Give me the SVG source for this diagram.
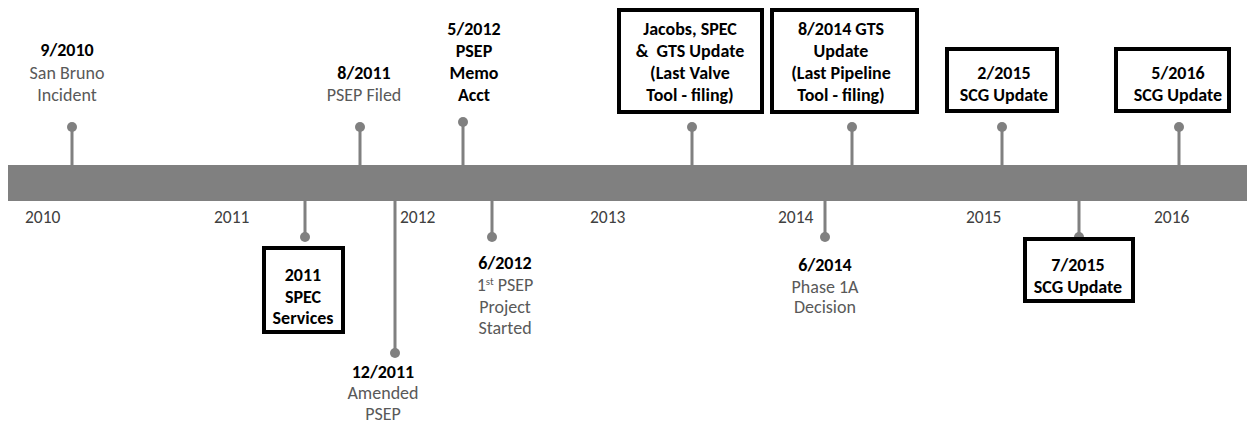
<svg xmlns="http://www.w3.org/2000/svg" width="1247" height="425" viewBox="0 0 1247 425">
<style>
text{font-family:Carlito,Lato,"Liberation Sans",sans-serif;font-size:18px;text-anchor:middle;fill:#595959;white-space:pre}
.b{font-weight:bold;fill:#000}
.yr{fill:#404040;text-anchor:start;font-size:17.5px}
.stem{stroke:#808080;stroke-width:3;fill:none}
.dot{fill:#808080}
.box{fill:#fff;stroke:#000;stroke-width:4}
</style>
<rect width="1247" height="425" fill="#fff"/>
<g id="timeline">
<rect x="8" y="165" width="1239" height="36" fill="#808080"/>
<text class="yr" x="25" y="223">2010</text>
<text class="yr" x="214" y="223">2011</text>
<text class="yr" x="400" y="223">2012</text>
<text class="yr" x="590" y="223">2013</text>
<text class="yr" x="778" y="223">2014</text>
<text class="yr" x="966" y="223">2015</text>
<text class="yr" x="1154" y="223">2016</text>
</g>
<g id="connectors">
<path class="stem" d="M72 127V165M360 127V165M463 122V165M692 127V165M852 127V165M1002 127V165M1179 127V165"/>
<path class="stem" d="M305 201V237M395 201V353M492 201V237M825 201V237M1079 201V237"/>
<g class="dot">
<circle cx="72" cy="127" r="5"/><circle cx="360" cy="127" r="5"/><circle cx="463" cy="122" r="5"/>
<circle cx="692" cy="127" r="5"/><circle cx="852" cy="127" r="5"/><circle cx="1002" cy="127" r="5"/>
<circle cx="1179" cy="127" r="5"/><circle cx="305" cy="237" r="5"/><circle cx="395" cy="353" r="5"/>
<circle cx="492" cy="237" r="5"/><circle cx="825" cy="237" r="5"/><circle cx="1079" cy="237" r="5"/>
</g>
</g>
<g id="n-2010-09">
<text class="b" x="67" y="56">9/2010</text>
<text x="67" y="79">San Bruno</text>
<text x="67" y="101">Incident</text>
</g>
<g id="n-2011-08">
<text class="b" x="364" y="79">8/2011</text>
<text x="364" y="101">PSEP Filed</text>
</g>
<g id="n-2012-05">
<text class="b" x="474" y="35">5/2012</text>
<text class="b" x="474" y="57">PSEP</text>
<text class="b" x="474" y="79">Memo</text>
<text class="b" x="474" y="101">Acct</text>
</g>
<g id="n-jacobs">
<rect class="box" x="619" y="10" width="143" height="102"/>
<text class="b" x="690" y="35">Jacobs, SPEC</text>
<text class="b" x="690" y="57">&amp;  GTS Update</text>
<text class="b" x="690" y="79">(Last Valve</text>
<text class="b" x="690" y="101">Tool - filing)</text>
</g>
<g id="n-2014-08">
<rect class="box" x="772" y="10" width="145" height="102"/>
<text class="b" x="841" y="35">8/2014 GTS</text>
<text class="b" x="841" y="57">Update</text>
<text class="b" x="841" y="79">(Last Pipeline</text>
<text class="b" x="841" y="101">Tool - filing)</text>
</g>
<g id="n-2015-02">
<rect class="box" x="947" y="49" width="110" height="62"/>
<text class="b" x="1004" y="79">2/2015</text>
<text class="b" x="1004" y="101">SCG Update</text>
</g>
<g id="n-2016-05">
<rect class="box" x="1116" y="49" width="113" height="62"/>
<text class="b" x="1178" y="79">5/2016</text>
<text class="b" x="1178" y="101">SCG Update</text>
</g>
<g id="n-2011-spec">
<rect class="box" x="264" y="248" width="79" height="84"/>
<text class="b" x="303" y="281">2011</text>
<text class="b" x="303" y="303">SPEC</text>
<text class="b" x="303" y="324">Services</text>
</g>
<g id="n-2011-12">
<text class="b" x="383" y="378">12/2011</text>
<text x="383" y="399">Amended</text>
<text x="383" y="420">PSEP</text>
</g>
<g id="n-2012-06">
<text class="b" x="505" y="269">6/2012</text>
<text x="505" y="291">1<tspan font-size="11" dy="-6">st</tspan><tspan dy="6"> PSEP</tspan></text>
<text x="505" y="313">Project</text>
<text x="505" y="334">Started</text>
</g>
<g id="n-2014-06">
<text class="b" x="825" y="271">6/2014</text>
<text x="825" y="293">Phase 1A</text>
<text x="825" y="313">Decision</text>
</g>
<g id="n-2015-07">
<rect class="box" x="1025" y="239" width="108" height="62"/>
<text class="b" x="1078" y="271">7/2015</text>
<text class="b" x="1078" y="293">SCG Update</text>
</g>
</svg>
